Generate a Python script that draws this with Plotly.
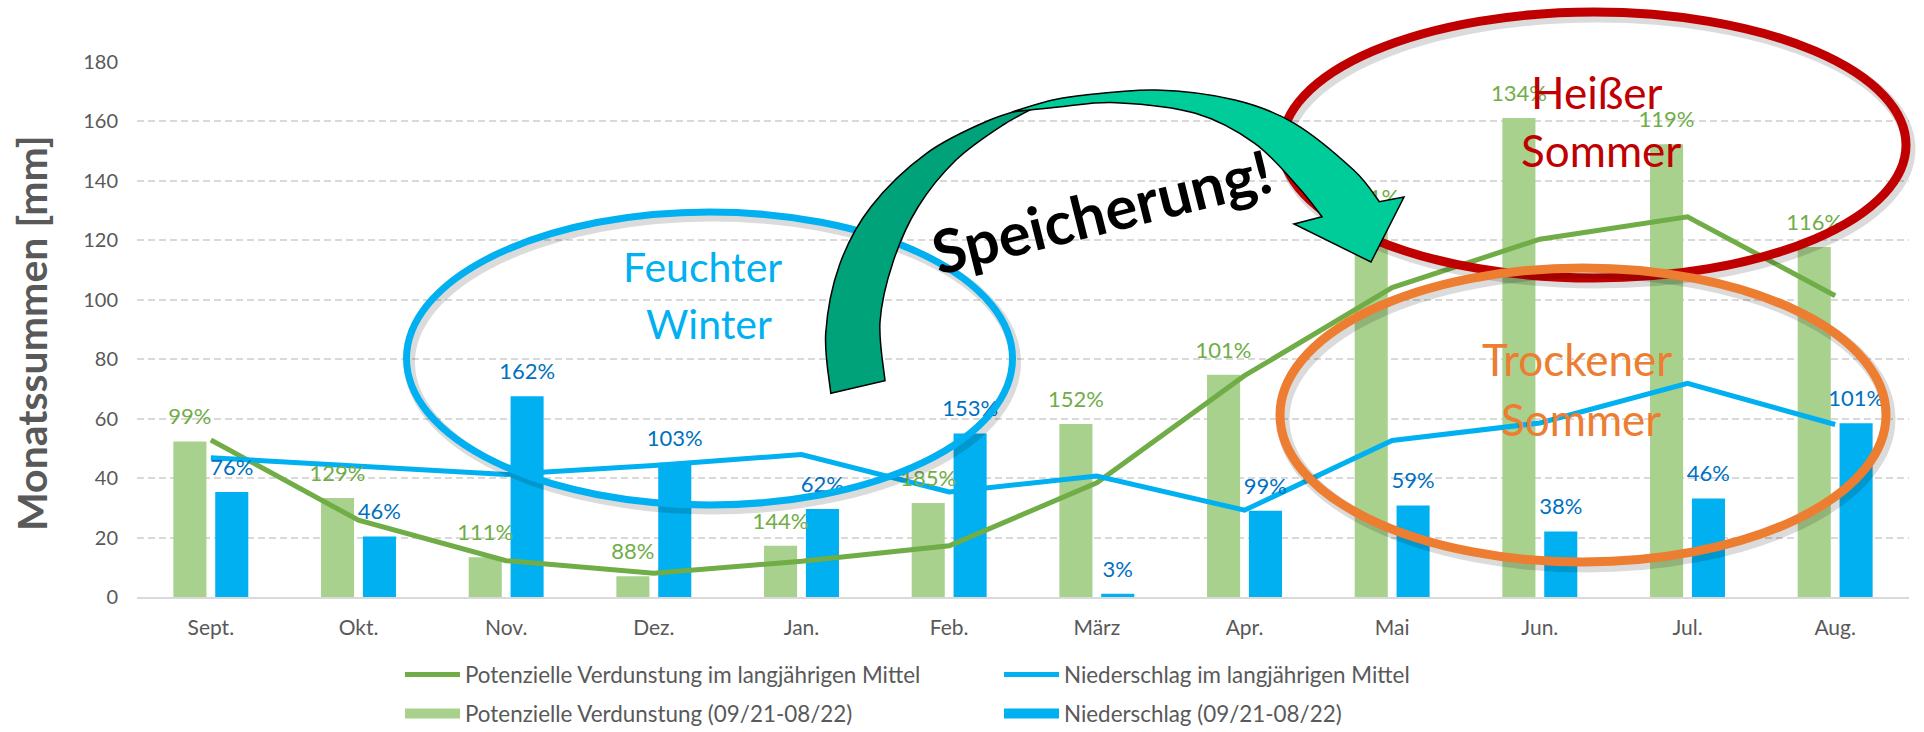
import plotly.graph_objects as go

# ---------------- data ----------------
months = ["Sept.", "Okt.", "Nov.", "Dez.", "Jan.", "Feb.", "März", "Apr.", "Mai", "Jun.", "Jul.", "Aug."]
etp_mean = [52.8, 25.8, 12.2, 8.0, 12.0, 17.2, 38.4, 74.4, 104.0, 120.3, 127.8, 101.3]
precip_mean = [46.8, 44.0, 41.2, 44.2, 47.9, 35.3, 40.7, 29.2, 52.6, 58.5, 71.8, 58.0]
etp_2122 = [52.3, 33.3, 13.4, 7.0, 17.2, 31.6, 58.2, 74.7, 126.0, 161.0, 152.2, 117.7]
precip_2122 = [35.3, 20.3, 67.5, 45.1, 29.6, 55.0, 1.1, 29.0, 30.8, 22.0, 33.1, 58.4]
etp_pct = ["99%", "129%", "111%", "88%", "144%", "185%", "152%", "101%", "121%", "134%", "119%", "116%"]
precip_pct = ["76%", "46%", "162%", "103%", "62%", "153%", "3%", "99%", "59%", "38%", "46%", "101%"]
y_ticks = [0, 20, 40, 60, 80, 100, 120, 140, 160, 180]

# ---------------- style ----------------
FONT = "Lato"
GRAY = "#595959"
C_ETP_LINE = "#70AD47"
C_ETP_BAR = "#A9D18E"
C_PR = "#00B0F0"
C_PR_LABEL = "#0070C0"
BARGAP = 0.433
W, H = 1924, 732
ML, MR, MT, MB = 137, 15, 61, 135
PW, PH = W - ML - MR, H - MT - MB


def px(x):
    return (x - ML) / PW


def py(y):
    return (H - MB - y) / PH


idx = list(range(len(months)))
off = (1 - BARGAP) / 4.0
x_left = [i - off for i in idx]
x_right = [i + off for i in idx]

fig = go.Figure()

# legend row 1: lines
fig.add_trace(go.Scatter(x=idx, y=etp_mean, mode="lines", name="Potenzielle Verdunstung im langjährigen Mittel",
                         line=dict(color=C_ETP_LINE, width=5), legend="legend", hoverinfo="skip"))
fig.add_trace(go.Scatter(x=idx, y=precip_mean, mode="lines", name="Niederschlag im langjährigen Mittel",
                         line=dict(color=C_PR, width=5), legend="legend", hoverinfo="skip"))
# bars (legend shown through wide swatches in row 2)
fig.add_trace(go.Bar(x=idx, y=etp_2122, name="Potenzielle Verdunstung (09/21-08/22)", showlegend=False,
                     marker=dict(color=C_ETP_BAR, line=dict(width=0)), hoverinfo="skip"))
fig.add_trace(go.Bar(x=idx, y=precip_2122, name="Niederschlag (09/21-08/22)", showlegend=False,
                     marker=dict(color=C_PR, line=dict(width=0)), hoverinfo="skip"))
# legend row 2 swatches (wide rectangles like the original)
fig.add_trace(go.Scatter(x=[None], y=[None], mode="lines", name="Potenzielle Verdunstung (09/21-08/22)",
                         line=dict(color=C_ETP_BAR, width=14), legend="legend2", hoverinfo="skip"))
fig.add_trace(go.Scatter(x=[None], y=[None], mode="lines", name="Niederschlag (09/21-08/22)",
                         line=dict(color=C_PR, width=14), legend="legend2", hoverinfo="skip"))

# data labels (drawn as text traces so decorations can cover them)
LBL = 22
fig.add_trace(go.Scatter(x=x_left, y=etp_2122, mode="markers+text", text=etp_pct, textposition="top center",
                         marker=dict(size=17, opacity=0), textfont=dict(family=FONT, size=LBL, color=C_ETP_LINE),
                         showlegend=False, hoverinfo="skip", cliponaxis=False))
fig.add_trace(go.Scatter(x=x_right, y=precip_2122, mode="markers+text", text=precip_pct, textposition="top center",
                         marker=dict(size=17, opacity=0), textfont=dict(family=FONT, size=LBL, color=C_PR_LABEL),
                         showlegend=False, hoverinfo="skip", cliponaxis=False))

# ---------------- decorations ----------------
shapes = []


def ellipse(cx, cy, rx, ry, color, width, shadow=True):
    if shadow:
        shapes.append(dict(type="circle", xref="paper", yref="paper", layer="above",
                           x0=px(cx - rx + 3), x1=px(cx + rx + 3), y0=py(cy + ry + 4), y1=py(cy - ry + 4),
                           line=dict(color="rgba(0,0,0,0.14)", width=width + 4)))
    shapes.append(dict(type="circle", xref="paper", yref="paper", layer="above",
                       x0=px(cx - rx), x1=px(cx + rx), y0=py(cy + ry), y1=py(cy - ry),
                       line=dict(color=color, width=width)))


ellipse(709.5, 358.5, 303, 146.5, "#00B0F0", 7)
ellipse(1594, 145, 312, 133, "#C00000", 9)
ellipse(1583, 415, 303, 147, "#ED7D31", 9)


def smooth(pts):
    """Catmull-Rom through pts -> list of cubic segments (c1, c2, p)."""
    segs = []
    n = len(pts)
    for i in range(n - 1):
        p0 = pts[i - 1] if i > 0 else pts[i]
        p1, p2 = pts[i], pts[i + 1]
        p3 = pts[i + 2] if i + 2 < n else pts[i + 1]
        c1 = (p1[0] + (p2[0] - p0[0]) / 6, p1[1] + (p2[1] - p0[1]) / 6)
        c2 = (p2[0] - (p3[0] - p1[0]) / 6, p2[1] - (p3[1] - p1[1]) / 6)
        segs.append((c1, c2, p2))
    return segs


def P(p):
    return f"{px(p[0]):.5f},{py(p[1]):.5f}"


def path_from(parts):
    d = ""
    first = True
    for kind, pts in parts:
        if first:
            d += "M" + P(pts[0])
            first = False
        else:
            d += " L" + P(pts[0])
        if kind == "smooth":
            for c1, c2, p in smooth(pts):
                d += f" C{P(c1)} {P(c2)} {P(p)}"
        else:
            for p in pts[1:]:
                d += " L" + P(p)
    return d + " Z"


dark_outer = [(830.8, 393.3), (825.7, 333.3), (839.5, 265), (871, 206.7), (926.5, 153.3), (989.8, 120), (1042, 104)]
dark_inner = [(1042, 104), (1003, 125), (956, 160), (918, 207), (893, 262), (880, 322), (885, 380.7)]
shapes.append(dict(type="path", xref="paper", yref="paper", layer="above",
                   path=path_from([("smooth", dark_outer), ("smooth", dark_inner)]),
                   fillcolor="#00A27A", line=dict(color="black", width=1.5)))

bright_outer = [(1012, 112), (1045, 102), (1076.8, 96), (1155.9, 90), (1235, 100), (1294.3, 123.3), (1353.6, 170),
                (1379.3, 201.7)]
head = [(1379.3, 201.7), (1404, 197), (1371, 262), (1294, 224), (1322, 216.7)]
bright_inner = [(1322, 216.7), (1298, 186.7), (1254.7, 143.3), (1195.4, 113.3), (1116.3, 102.7), (1061, 106.7),
                (1012, 112)]
shapes.append(dict(type="path", xref="paper", yref="paper", layer="above",
                   path=path_from([("smooth", bright_outer), ("line", head), ("smooth", bright_inner)]),
                   fillcolor="#00CC99", line=dict(color="black", width=1.5)))

annotations = []


def note(text, x, y, size, color, bold=False, angle=0):
    annotations.append(dict(text=f"<b>{text}</b>" if bold else text, x=px(x), y=py(y), xref="paper", yref="paper",
                            showarrow=False, xanchor="center", yanchor="middle", textangle=angle,
                            font=dict(family=FONT, size=size, color=color)))


note("Feuchter", 702, 266, 41, "#00B0F0")
note("Winter", 709, 323, 41, "#00B0F0")
note("Heißer", 1596, 92, 44, "#C00000")
note("Sommer", 1601, 150, 44, "#C00000")
note("Trockener", 1577, 359, 44, "#ED7D31")
note("Sommer", 1581, 419, 44, "#ED7D31")
note("Speicherung!", 1101, 211, 60, "black", bold=True, angle=-14)
note("Monatssummen [mm]", 31, 333, 41, GRAY, bold=True, angle=-90)

legend_common = dict(orientation="h", xanchor="left", yanchor="middle", itemwidth=55, entrywidth=529,
                     font=dict(family=FONT, size=22.4, color=GRAY), bgcolor="rgba(0,0,0,0)", traceorder="normal")

fig.update_layout(
    width=W, height=H,
    margin=dict(l=ML, r=MR, t=MT, b=MB, autoexpand=False),
    paper_bgcolor="white", plot_bgcolor="white",
    barmode="group", bargap=BARGAP, bargroupgap=0.21,
    font=dict(family=FONT, color=GRAY),
    xaxis=dict(range=[-0.5, len(months) - 0.5], tickvals=idx, ticktext=months, showgrid=False,
               showline=True, linecolor="#D9D9D9", linewidth=2, ticks="", ticklabelstandoff=11,
               tickfont=dict(family=FONT, size=21, color=GRAY), zeroline=False, fixedrange=True),
    yaxis=dict(range=[0, 180.2], tickvals=y_ticks, showgrid=True, gridcolor="#D9D9D9", gridwidth=2,
               griddash="7px,4px", zeroline=False, showline=False, ticks="", ticklabelstandoff=18,
               tickfont=dict(family=FONT, size=20, color=GRAY), fixedrange=True),
    legend=dict(x=px(400), y=py(675), **legend_common),
    legend2=dict(x=px(400), y=py(714), **legend_common),
    shapes=shapes,
    annotations=annotations,
    showlegend=True,
)

fig.write_html("out.html", config={"displayModeBar": False},
               post_script="document.body.style.margin='0';document.body.style.overflow='hidden';")
